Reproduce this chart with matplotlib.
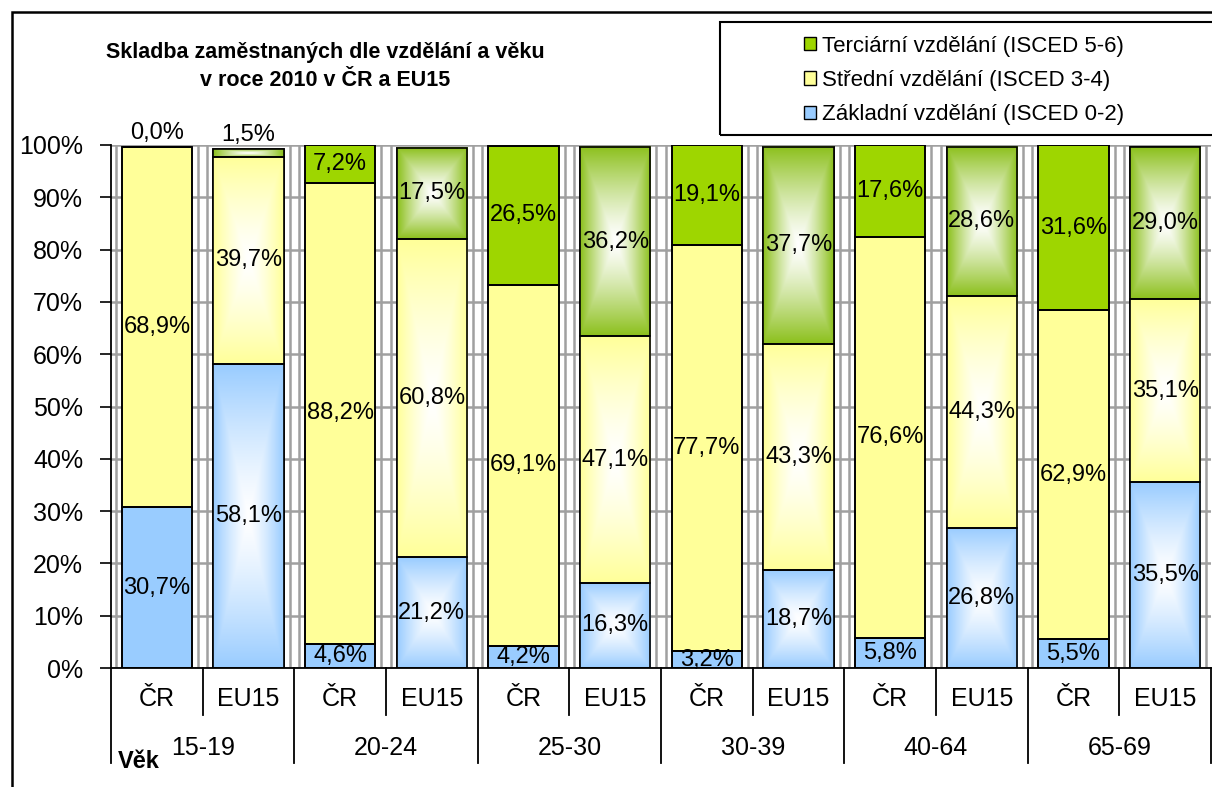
import numpy as np
import matplotlib
matplotlib.use('Agg')
import matplotlib.pyplot as plt
from matplotlib.patches import Rectangle, Patch
from matplotlib.colors import to_rgb
import matplotlib.transforms as mtransforms

plt.rcParams['font.family'] = ['Liberation Sans', 'DejaVu Sans']

# data
vek = ['15-19', '20-24', '25-30', '30-39', '40-64', '65-69']
zeme = ['ČR', 'EU15']
zakladni = [30.7, 58.1, 4.6, 21.2, 4.2, 16.3, 3.2, 18.7, 5.8, 26.8, 5.5, 35.5]
stredni = [68.9, 39.7, 88.2, 60.8, 69.1, 47.1, 77.7, 43.3, 76.6, 44.3, 62.9, 35.1]
terciarni = [0.0, 1.5, 7.2, 17.5, 26.5, 36.2, 19.1, 37.7, 17.6, 28.6, 31.6, 29.0]
nazvy = ['Základní vzdělání (ISCED 0-2)', 'Střední vzdělání (ISCED 3-4)',
         'Terciární vzdělání (ISCED 5-6)']
barvy_cr = ['#99CCFF', '#FFFF99', '#9ED600']
barvy_eu = ['#99CCFF', '#FFFF99', '#8CC01C']


def prechod(ax, bar, color):
    """bila zare uprostred sloupce (jako v Excelu)"""
    x0, y0 = bar.get_x(), bar.get_y()
    w, h = bar.get_width(), bar.get_height()
    if h <= 0:
        return
    u = np.abs(np.linspace(-1, 1, 80))
    v = np.abs(np.linspace(-1, 1, 160))
    t = np.maximum(u[None, :], v[:, None]) ** 1.3
    rgb = np.array(to_rgb(color))
    img = (1 - t)[..., None] + t[..., None] * rgb
    ax.imshow(img, extent=(x0, x0 + w, y0, y0 + h), aspect='auto',
              origin='lower', interpolation='bilinear', zorder=2.5)


fig = plt.figure(figsize=(12.12, 7.87), dpi=100)
ax = fig.add_axes([111 / 1212, 1 - 668 / 787, 1100 / 1212, 523 / 787])

x = np.arange(len(zakladni))
sirka = 0.77
vrstvy = [zakladni, stredni, terciarni]
dno = np.zeros(len(x))
for i, vals in enumerate(vrstvy):
    vals = np.array(vals)
    cols = [barvy_cr[i] if k % 2 == 0 else barvy_eu[i] for k in x]
    bars = ax.bar(x, vals, sirka, bottom=dno, color=cols, edgecolor='black',
                  linewidth=1.2, zorder=2)
    for k, b in enumerate(bars):
        if k % 2 == 1:
            prechod(ax, b, barvy_eu[i])
    ax.bar(x, vals, sirka, bottom=dno, fill=False, edgecolor='black',
           linewidth=1.2, zorder=3)
    for k, b in enumerate(bars):
        txt = f'{vals[k]:.1f}%'.replace('.', ',')
        if vals[k] < 2:
            ax.text(b.get_x() + sirka / 2, b.get_y() + vals[k] + 0.5, txt,
                    ha='center', va='bottom', fontsize=17, zorder=4, clip_on=False)
        else:
            ax.text(b.get_x() + sirka / 2, b.get_y() + vals[k] / 2, txt,
                    ha='center', va='center', fontsize=17, zorder=4)
    dno = dno + vals

ax.set_xlim(-0.5, len(x) - 0.5)
ax.set_ylim(0, 100)

# mrizka
ax.set_yticks(np.arange(0, 101, 10))
ax.set_yticklabels([f'{v}%' for v in range(0, 101, 10)])
ax.yaxis.grid(True, color='#a0a0a0', linewidth=1.8, zorder=1)
for k in range(len(x) + 1):
    for d in (-0.05, 0.05):
        ax.axvline(k - 0.5 + d, color='#a0a0a0', linewidth=1.8, zorder=1)
ax.set_axisbelow(True)

ax.tick_params(axis='y', direction='out', length=8, width=1.2, labelsize=18, pad=12)
ax.set_xticks(x)
ax.set_xticklabels(zeme * len(vek))
ax.tick_params(axis='x', length=0, labelsize=18, pad=14)
for s in ['top', 'right']:
    ax.spines[s].set_visible(False)
for s in ['left', 'bottom']:
    ax.spines[s].set_linewidth(1.3)

# dvouurovnova osa x
trans = mtransforms.blended_transform_factory(ax.transData, ax.transAxes)
for k in range(len(x) + 1):
    spodek = -0.182 if k % 2 == 0 else -0.090
    ax.plot([k - 0.5, k - 0.5], [0, spodek], color='black', lw=1.3,
            transform=trans, clip_on=False)
for g, nazev in enumerate(vek):
    ax.text(2 * g + 0.5, -0.153, nazev, transform=trans, ha='center',
            va='center', fontsize=18)
ax.text(-0.43, -0.178, 'Věk', transform=trans, ha='left', va='center',
        fontsize=17, fontweight='bold')

# titulek
fig.text(0.268, 0.916, 'Skladba zaměstnaných dle vzdělání a věku\nv roce 2010 v ČR a EU15',
         ha='center', va='center', fontsize=15.5, fontweight='bold', linespacing=1.45)

# legenda
fig.patches.append(Rectangle((720 / 1212, 1 - 135 / 787), 0.5, 113 / 787,
                             transform=fig.transFigure, fill=False,
                             edgecolor='black', linewidth=1.5))
ruce = [Patch(facecolor=barvy_cr[i], edgecolor='black', label=nazvy[i]) for i in (2, 1, 0)]
fig.legend(handles=ruce, loc='upper left', bbox_to_anchor=(788 / 1212, 1 - 20 / 787),
           frameon=False, fontsize=16, handlelength=0.55, handleheight=0.55,
           handletextpad=0.3, labelspacing=0.6, borderpad=0.2)

# ramecek kolem grafu
fig.patches.append(Rectangle((12 / 1212, -0.1), 2, 1.1 - 12 / 787,
                             transform=fig.transFigure, fill=False,
                             edgecolor='black', linewidth=1.8))

plt.savefig('out.png', dpi=100, facecolor='white')
